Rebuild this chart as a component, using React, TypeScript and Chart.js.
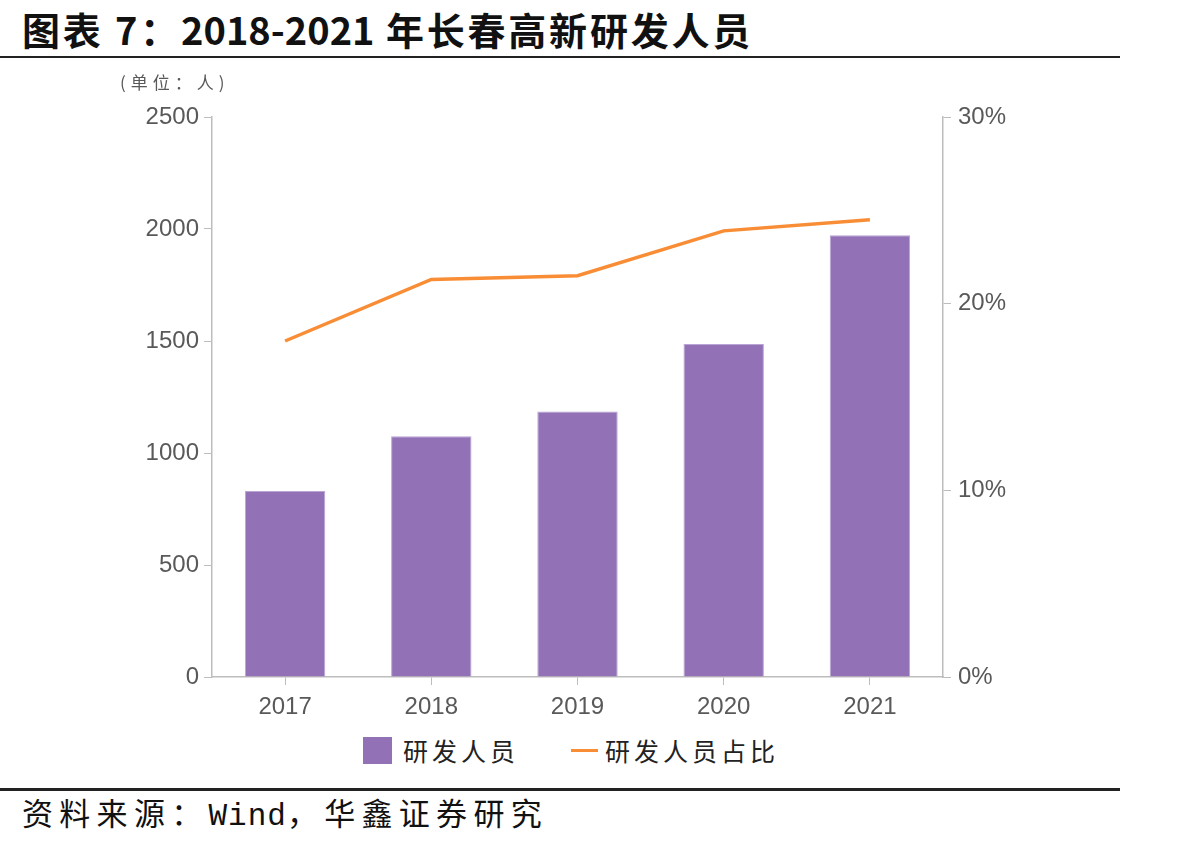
import React, { useEffect, useRef } from "react";
import { Chart, registerables } from "chart.js";

Chart.register(...registerables);

const categories: string[] = ["2017", "2018", "2019", "2020", "2021"];
const staffCounts: number[] = [830, 1075, 1185, 1487, 1972];
const staffShares: number[] = [18.0, 21.3, 21.5, 23.9, 24.5];
const leftTicks: number[] = [0, 500, 1000, 1500, 2000, 2500];
const rightTicks: number[] = [0, 10, 20, 30];
const seriesNames: string[] = ["研发人员", "研发人员占比"];

const BAR_COLOR = "#9271b6";
const LINE_COLOR = "#f98d35";
const AXIS_COLOR = "#bdbdbd";
const TICK_COLOR = "#595959";

const CANVAS_TOP = 92;
const CANVAS_W = 1191;
const CANVAS_H = 638;
const PLOT_LEFT = 212;
const PLOT_RIGHT = 943;
const PLOT_TOP = 117;
const PLOT_BOTTOM = 677;

export default function App() {
  const ref = useRef<HTMLCanvasElement | null>(null);

  useEffect(() => {
    if (!ref.current) return;
    const tickFont = { family: "'Liberation Sans', Arial, sans-serif", size: 24 };
    const chart = new Chart(ref.current, {
      type: "bar",
      data: {
        labels: categories,
        datasets: [
          {
            type: "bar",
            label: seriesNames[0],
            data: staffCounts,
            backgroundColor: BAR_COLOR,
            borderColor: "#b9a5d4",
            borderWidth: 1,
            barPercentage: 0.55,
            categoryPercentage: 1,
            yAxisID: "y",
            order: 2,
          },
          {
            type: "line",
            label: seriesNames[1],
            data: staffShares,
            borderColor: LINE_COLOR,
            backgroundColor: LINE_COLOR,
            borderWidth: 3.5,
            pointRadius: 0,
            tension: 0,
            fill: false,
            yAxisID: "y1",
            order: 1,
          },
        ],
      },
      options: {
        animation: false,
        responsive: false,
        maintainAspectRatio: false,
        layout: { padding: { top: PLOT_TOP - CANVAS_TOP, left: 0, right: 0, bottom: 0 } },
        plugins: {
          legend: { display: false },
          tooltip: { enabled: false },
          title: { display: false },
        },
        scales: {
          x: {
            offset: true,
            grid: {
              display: true,
              offset: false,
              drawOnChartArea: false,
              drawTicks: true,
              tickLength: 8,
              color: AXIS_COLOR,
            },
            border: { display: true, color: AXIS_COLOR, width: 1.5 },
            ticks: { color: TICK_COLOR, font: tickFont, padding: 8, maxRotation: 0 },
            afterFit: (s: any) => {
              s.height = CANVAS_TOP + CANVAS_H - PLOT_BOTTOM;
            },
          },
          y: {
            position: "left",
            min: leftTicks[0],
            max: leftTicks[leftTicks.length - 1],
            afterBuildTicks: (s: any) => {
              s.ticks = leftTicks.map((v) => ({ value: v }));
            },
            grid: {
              display: true,
              drawOnChartArea: false,
              drawTicks: true,
              tickLength: 8,
              color: AXIS_COLOR,
            },
            border: { display: true, color: AXIS_COLOR, width: 1.5 },
            ticks: {
              color: TICK_COLOR,
              font: tickFont,
              padding: 5,
              callback: (v: any) => String(v),
            },
            afterFit: (s: any) => {
              s.width = PLOT_LEFT;
            },
          },
          y1: {
            position: "right",
            min: rightTicks[0],
            max: rightTicks[rightTicks.length - 1],
            afterBuildTicks: (s: any) => {
              s.ticks = rightTicks.map((v) => ({ value: v }));
            },
            grid: {
              display: true,
              drawOnChartArea: false,
              drawTicks: true,
              tickLength: 8,
              color: AXIS_COLOR,
            },
            border: { display: true, color: AXIS_COLOR, width: 1.5 },
            ticks: {
              color: TICK_COLOR,
              font: tickFont,
              padding: 7,
              callback: (v: any) => `${v}%`,
            },
            afterFit: (s: any) => {
              s.width = CANVAS_W - PLOT_RIGHT;
            },
          },
        },
      },
    });
    return () => chart.destroy();
  }, []);

  const cjk = "'Noto Sans CJK SC', 'Noto Sans', sans-serif";

  return (
    <div style={{ position: "absolute", left: 0, top: 0, width: 1191, height: 845, background: "#fff", overflow: "hidden" }}>
      <canvas
        ref={ref}
        width={CANVAS_W}
        height={CANVAS_H}
        style={{ position: "absolute", left: 0, top: CANVAS_TOP, width: CANVAS_W, height: CANVAS_H }}
      />
      <div
        style={{
          position: "absolute",
          left: 22,
          top: 4,
          fontFamily: cjk,
          fontWeight: 700,
          fontSize: 38,
          lineHeight: "50px",
          letterSpacing: 2.8,
          color: "#111",
          whiteSpace: "nowrap",
        }}
      >
        图表 7：<span style={{ letterSpacing: 0 }}>2018-2021</span> 年长春高新研发人员
      </div>
      <div style={{ position: "absolute", left: 0, top: 56, width: 1120, height: 2, background: "#222" }} />
      <div
        style={{
          position: "absolute",
          left: 120,
          top: 70,
          fontFamily: cjk,
          fontSize: 17,
          lineHeight: "24px",
          letterSpacing: 5,
          color: TICK_COLOR,
          whiteSpace: "nowrap",
        }}
      >
        (单位：人)
      </div>
      <div style={{ position: "absolute", left: 363, top: 737, width: 29, height: 27, background: BAR_COLOR }} />
      <div
        style={{
          position: "absolute",
          left: 403,
          top: 732,
          fontFamily: cjk,
          fontSize: 25,
          lineHeight: "36px",
          letterSpacing: 4,
          color: "#222",
          whiteSpace: "nowrap",
        }}
      >
        {seriesNames[0]}
      </div>
      <div style={{ position: "absolute", left: 571, top: 749, width: 27, height: 3, background: LINE_COLOR }} />
      <div
        style={{
          position: "absolute",
          left: 605,
          top: 732,
          fontFamily: cjk,
          fontSize: 25,
          lineHeight: "36px",
          letterSpacing: 4,
          color: "#222",
          whiteSpace: "nowrap",
        }}
      >
        {seriesNames[1]}
      </div>
      <div style={{ position: "absolute", left: 0, top: 788, width: 1120, height: 3, background: "#222" }} />
      <div
        style={{
          position: "absolute",
          left: 22,
          top: 792,
          fontFamily: cjk,
          fontSize: 31,
          lineHeight: "40px",
          letterSpacing: 6.3,
          color: "#111",
          whiteSpace: "nowrap",
        }}
      >
        资料来源：
        <span style={{ fontFamily: "'Liberation Mono', 'DejaVu Sans Mono', monospace", letterSpacing: 1 }}>Wind</span>
        ，华鑫证券研究
      </div>
    </div>
  );
}
